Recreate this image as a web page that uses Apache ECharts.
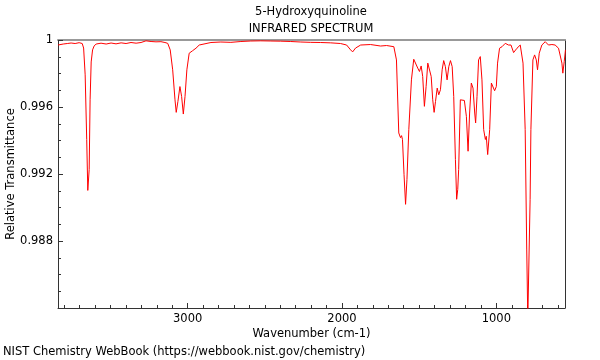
<!DOCTYPE html>
<html>
<head>
<meta charset="utf-8">
<script src="https://cdn.jsdelivr.net/npm/echarts@6/dist/echarts.min.js"></script>
<style>html,body{margin:0;padding:0;background:#fff}#c{width:600px;height:360px}</style>
</head>
<body>
<div id="c"></div>
<script>
const titleLines = ["5-Hydroxyquinoline", "INFRARED SPECTRUM"];
const xName = "Wavenumber (cm-1)";
const yName = "Relative Transmittance";
const footer = "NIST Chemistry WebBook (https://webbook.nist.gov/chemistry)";
const xMajorTicks = [1000, 2000, 3000];
const yTicks = [0.988, 0.992, 0.996, 1];

const wavenumbers = [3840,3806,3780,3755,3729,3703,3683,3674,3664,3654,3647,3638,3632,3625,3616,3606,3593,3561,3528,3496,3464,3431,3399,3367,3334,3302,3270,3237,3205,3173,3147,3129,3113,3097,3082,3074,3063,3050,3039,3028,3017,3005,2990,2968,2946,2925,2914,2849,2785,2720,2655,2591,2526,2461,2397,2332,2267,2203,2138,2073,2009,1970,1944,1931,1912,1879,1815,1750,1711,1664,1647,1632,1621,1614,1608,1598,1588,1579,1567,1550,1535,1524,1509,1498,1487,1477,1466,1455,1444,1435,1422,1412,1403,1394,1383,1373,1362,1351,1341,1330,1319,1308,1297,1286,1276,1265,1257,1250,1244,1233,1222,1207,1194,1183,1173,1162,1151,1140,1134,1125,1115,1104,1093,1082,1071,1065,1056,1043,1032,1021,1011,1000,992,979,963,942,921,905,888,866,845,827,813,803,796,787,781,776,763,752,741,733,722,705,683,672,662,640,619,597,575,569,560,552];
const transmittance = [0.99970,0.99976,0.99979,0.99982,0.99979,0.99984,0.99979,0.99952,0.99792,0.99406,0.99102,0.99227,0.99643,0.99869,0.99941,0.99964,0.99976,0.99981,0.99976,0.99982,0.99977,0.99983,0.99979,0.99985,0.99981,0.99985,0.99995,0.99991,0.99989,0.99990,0.99985,0.99980,0.99941,0.99822,0.99643,0.99568,0.99633,0.99722,0.99663,0.99558,0.99663,0.99822,0.99921,0.99936,0.99951,0.99970,0.99980,0.99985,0.99988,0.99986,0.99991,0.99994,0.99995,0.99994,0.99993,0.99991,0.99988,0.99986,0.99985,0.99983,0.99979,0.99970,0.99941,0.99929,0.99952,0.99970,0.99973,0.99964,0.99967,0.99960,0.99881,0.99445,0.99417,0.99429,0.99406,0.99198,0.99019,0.99168,0.99465,0.99762,0.99885,0.99891,0.99832,0.99812,0.99845,0.99782,0.99604,0.99722,0.99862,0.99851,0.99782,0.99643,0.99568,0.99633,0.99713,0.99673,0.99703,0.99822,0.99877,0.99841,0.99762,0.99841,0.99877,0.99841,0.99663,0.99287,0.99049,0.99108,0.99227,0.99643,0.99653,0.99639,0.99544,0.99336,0.99564,0.99743,0.99713,0.99564,0.99505,0.99663,0.99881,0.99901,0.99762,0.99465,0.99406,0.99425,0.99316,0.99465,0.99743,0.99743,0.99697,0.99722,0.99862,0.99951,0.99960,0.99980,0.99970,0.99970,0.99925,0.99951,0.99970,0.99862,0.99465,0.98752,0.98336,0.98336,0.99049,0.99465,0.99881,0.99911,0.99881,0.99822,0.99921,0.99970,0.99990,0.99997,0.99970,0.99973,0.99970,0.99951,0.99862,0.99802,0.99871,0.99941];

const X_MIN = 555, X_MAX = 3840;
const xMinorTicks = [];
for (let v = 600; v <= 3800; v += 100) if (v % 1000 !== 0) xMinorTicks.push(v);
const yMinorTicks = [];
for (let k = 985; k <= 999; k++) if (k % 4 !== 0) yMinorTicks.push(k / 1000);

const data = wavenumbers.map((w, i) => [w, transmittance[i]]);
const FONT = "DejaVu Sans";
const FS = 11.5;
const AX = "#333";

const chart = echarts.init(document.getElementById('c'), null, {renderer: 'canvas'});
chart.setOption({
  animation: false,
  backgroundColor: '#fff',
  title: {
    text: titleLines.join('\n'),
    left: 311, top: 4, padding: 0, textAlign: 'center',
    textStyle: {fontFamily: FONT, fontSize: FS, fontWeight: 'normal', color: '#000', lineHeight: 17}
  },
  graphic: [{
    type: 'text', left: 3, top: 346,
    style: {text: footer, fontFamily: FONT, fontSize: FS, fill: '#000'}
  }],
  grid: {left: 58, right: 35, top: 40, bottom: 52, outerBoundsMode: 'none', containLabel: false},
  xAxis: [{
    type: 'value', min: X_MIN, max: X_MAX, inverse: true,
    name: xName, nameLocation: 'middle', nameGap: 20, nameMoveOverlap: false,
    nameTextStyle: {fontFamily: FONT, fontSize: FS, color: '#000'},
    axisLine: {show: true, lineStyle: {color: AX, width: 1}},
    axisTick: {show: true, inside: true, length: 5, lineStyle: {color: AX}, customValues: xMajorTicks},
    axisLabel: {fontFamily: FONT, fontSize: FS, color: '#000', margin: 5, customValues: xMajorTicks,
      formatter: v => String(Math.round(v))},
    splitLine: {show: false}
  }, {
    type: 'value', min: X_MIN, max: X_MAX, inverse: true, position: 'bottom',
    axisLine: {show: false},
    axisTick: {show: true, inside: true, length: 3, lineStyle: {color: AX}, customValues: xMinorTicks},
    axisLabel: {show: false},
    splitLine: {show: false}
  }, {
    type: 'value', min: X_MIN, max: X_MAX, inverse: true, position: 'top',
    axisLine: {show: true, lineStyle: {color: '#999', width: 2}},
    axisTick: {show: false}, axisLabel: {show: false}, splitLine: {show: false}
  }],
  yAxis: [{
    type: 'value', min: 0.984, max: 1.0,
    name: yName, nameLocation: 'middle', nameGap: 41, nameRotate: 90, nameMoveOverlap: false,
    nameTextStyle: {fontFamily: FONT, fontSize: FS, color: '#000'},
    axisLine: {show: true, lineStyle: {color: AX, width: 1}},
    axisTick: {show: true, inside: true, length: 5, lineStyle: {color: AX}, customValues: yTicks},
    axisLabel: {fontFamily: FONT, fontSize: FS, color: '#000', margin: 5, customValues: yTicks,
      formatter: v => String(+(+v).toFixed(3))},
    splitLine: {show: false}
  }, {
    type: 'value', min: 0.984, max: 1.0, position: 'left',
    axisLine: {show: false},
    axisTick: {show: true, inside: true, length: 3, lineStyle: {color: AX}, customValues: yMinorTicks},
    axisLabel: {show: false}, splitLine: {show: false}
  }, {
    type: 'value', min: 0.984, max: 1.0, position: 'right',
    axisLine: {show: true, lineStyle: {color: AX, width: 1}},
    axisTick: {show: false}, axisLabel: {show: false}, splitLine: {show: false}
  }],
  series: [{
    type: 'line', data: data, xAxisIndex: 0, yAxisIndex: 0,
    showSymbol: false, symbol: 'none', clip: true,
    lineStyle: {color: '#ff0000', width: 1}
  }]
});
</script>
</body>
</html>
